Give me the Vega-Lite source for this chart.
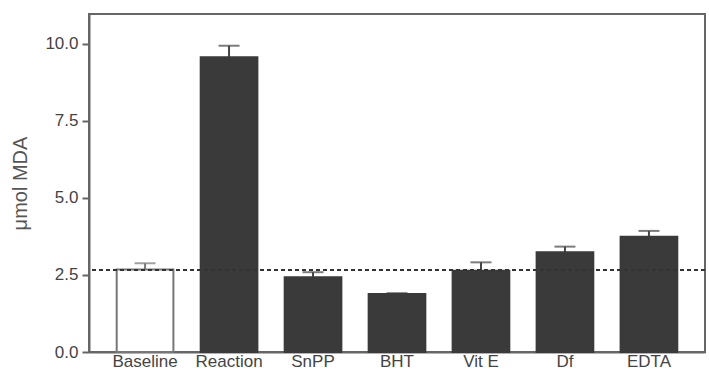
{
  "$schema": "https://vega.github.io/schema/vega-lite/v6.json",
  "width": 616,
  "height": 338,
  "autosize": {"type": "none"},
  "padding": {"left": 89, "top": 14, "right": 4, "bottom": 19},
  "background": "white",
  "config": {
    "view": {"stroke": "#666", "strokeWidth": 2},
    "font": "Liberation Sans"
  },
  "data": {
    "values": [
      {"group": "Baseline", "mda": 2.68, "upper": 2.88, "type": "open"},
      {"group": "Reaction", "mda": 9.57, "upper": 9.94, "type": "filled"},
      {"group": "SnPP", "mda": 2.43, "upper": 2.59, "type": "filled"},
      {"group": "BHT", "mda": 1.88, "upper": 1.91, "type": "filled"},
      {"group": "Vit E", "mda": 2.64, "upper": 2.91, "type": "filled"},
      {"group": "Df", "mda": 3.24, "upper": 3.42, "type": "filled"},
      {"group": "EDTA", "mda": 3.74, "upper": 3.93, "type": "filled"}
    ]
  },
  "layer": [
    {
      "mark": {"type": "rule", "strokeWidth": 2},
      "encoding": {
        "x": {"field": "group", "type": "nominal", "sort": null, "scale": {"paddingInner": 0.325, "paddingOuter": 0.33},
          "axis": {"title": null, "labelAngle": 0, "ticks": false, "labelFontSize": 17, "labelColor": "#444", "labelPadding": 1, "domainColor": "#666", "domainWidth": 2}},
        "y": {"field": "mda", "type": "quantitative"},
        "y2": {"field": "upper"},
        "color": {"field": "type", "type": "nominal", "scale": {"domain": ["open", "filled"], "range": ["#777", "#444"]}, "legend": null}
      }
    },
    {
      "mark": {"type": "tick", "thickness": 2, "size": 21},
      "encoding": {
        "x": {"field": "group", "type": "nominal", "sort": null},
        "y": {"field": "upper", "type": "quantitative"},
        "color": {"field": "type", "type": "nominal", "scale": {"domain": ["open", "filled"], "range": ["#777", "#444"]}, "legend": null}
      }
    },
    {
      "mark": {"type": "bar", "strokeWidth": 2},
      "encoding": {
        "x": {"field": "group", "type": "nominal", "sort": null},
        "y": {
          "field": "mda", "type": "quantitative",
          "scale": {"domain": [0, 10.97], "nice": false},
          "axis": {"title": "μmol MDA", "titleFontSize": 20, "titleFontWeight": "normal", "titleColor": "#555", "titlePadding": 14, "values": [0, 2.5, 5, 7.5, 10], "format": ".1f", "labelFontSize": 17, "labelColor": "#444", "tickSize": 7, "tickColor": "#666", "tickWidth": 2, "labelPadding": 4, "domainColor": "#666", "domainWidth": 2, "grid": false}
        },
        "fill": {"field": "type", "type": "nominal", "scale": {"domain": ["open", "filled"], "range": ["#ffffff", "#3a3a3a"]}, "legend": null},
        "stroke": {"field": "type", "type": "nominal", "scale": {"domain": ["open", "filled"], "range": ["#777", "#3a3a3a"]}, "legend": null}
      }
    },
    {
      "mark": {"type": "rule", "strokeDash": [4, 3], "strokeWidth": 1.8, "color": "#333"},
      "encoding": {"y": {"datum": 2.66}}
    }
  ]
}
